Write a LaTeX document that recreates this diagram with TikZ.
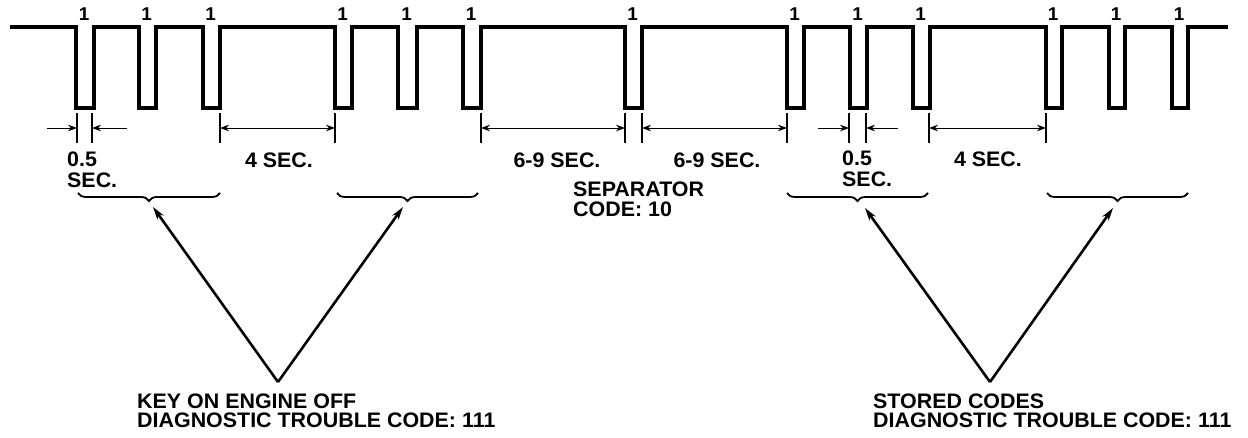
\documentclass[tikz,border=0pt]{standalone}
\usepackage{fontspec}
\setmainfont{Liberation Sans}[FakeStretch=1.02]
\usetikzlibrary{arrows.meta, decorations.pathreplacing}

\begin{document}
\begin{tikzpicture}[
  x=1pt, y=-1pt,
  wave/.style={line width=3.2pt, line join=miter},
  ext/.style={line width=1.2pt},
  dim/.style={line width=0.8pt, >={Stealth[length=9pt,width=6.5pt]}},
  lbl/.style={font=\bfseries\fontsize{21}{19}\selectfont, inner sep=0pt, align=left},
  one/.style={font=\bfseries\fontsize{18.5}{18}\selectfont, inner sep=0pt},
  group/.style={line width=1.8pt, decorate, decoration={brace, mirror, amplitude=8pt}},
  pointer/.style={line width=2.6pt, -{Stealth[length=13pt,width=7.5pt]}}
]
\useasboundingbox (0,0) rectangle (1248,438);

% pulse train
\draw[wave] (10,27)
  foreach \a/\b in {76/94, 139/156, 203/220, 335/352, 398/417, 463/481, 625/642,
                    787/804, 850/867, 913/930, 1046/1062, 1109/1125, 1172/1188}
  { -- (\a,27) -- (\a,108) -- (\b,108) -- (\b,27) } -- (1228,27);
\foreach \a/\b in {76/94, 139/156, 203/220, 335/352, 398/417, 463/481, 625/642,
                   787/804, 850/867, 913/930, 1046/1062, 1109/1125, 1172/1188}
  \node[one] (one-\a) at ({(\a+\b)/2-1},14) {1};

% time spans
\foreach \l/\r/\n in {220/335/a, 481/625/b, 642/787/c, 929/1046/d} {
  \coordinate (dl-\n) at (\l,128);
  \coordinate (dr-\n) at (\r,128);
  \draw[ext] (\l,113) -- (\l,143);
  \draw[ext] (\r,113) -- (\r,143);
  \draw[dim, <->] (dl-\n) -- (dr-\n);
}
\foreach \o/\l/\r/\p/\n in {47/77/92/127/a, 818/849/866/898/b} {
  \coordinate (hl-\n) at (\l,128);
  \coordinate (hr-\n) at (\r,128);
  \draw[ext] (\l,113) -- (\l,143);
  \draw[ext] (\r,113) -- (\r,143);
  \draw[dim, ->] (\o,128) -- (hl-\n);
  \draw[dim, ->] (\p,128) -- (hr-\n);
}

\node[lbl, anchor=north west] (half-a) at (67,152) {0.5\\[1.5pt]SEC.};
\node[lbl] (four-a) at (279,160) {4 SEC.};
\node[lbl] (sixnine-a) at (557,160) {6-9 SEC.};
\node[lbl] (sixnine-b) at (717,160) {6-9 SEC.};
\node[lbl, anchor=north west] (half-b) at (842,151) {0.5\\[1.5pt]SEC.};
\node[lbl] (four-b) at (988,159) {4 SEC.};
\node[lbl, anchor=north west] (sep) at (573,182) {SEPARATOR\\[0.5pt]CODE: 10};

% code groups
\draw[group] (78,193) -- (220,193);
\draw[group] (337,193) -- (478,193);
\draw[group] (787,193) -- (928,193);
\draw[group] (1047,193) -- (1188,193);

\coordinate (koeo-tip) at (278,382);
\coordinate (koeo-l) at (153,207);
\coordinate (koeo-r) at (403,207);
\coordinate (stored-tip) at (990,382);
\coordinate (stored-l) at (865,208);
\coordinate (stored-r) at (1113,208);
\draw[pointer] (koeo-tip) -- (koeo-l);
\draw[pointer] (koeo-tip) -- (koeo-r);
\draw[pointer] (stored-tip) -- (stored-l);
\draw[pointer] (stored-tip) -- (stored-r);

\node[lbl, anchor=north west] (koeo) at (137,394) {KEY ON ENGINE OFF\\DIAGNOSTIC TROUBLE CODE: 111};
\node[lbl, anchor=north west] (stored) at (873,394) {STORED CODES\\DIAGNOSTIC TROUBLE CODE: 111};

\end{tikzpicture}
\end{document}
